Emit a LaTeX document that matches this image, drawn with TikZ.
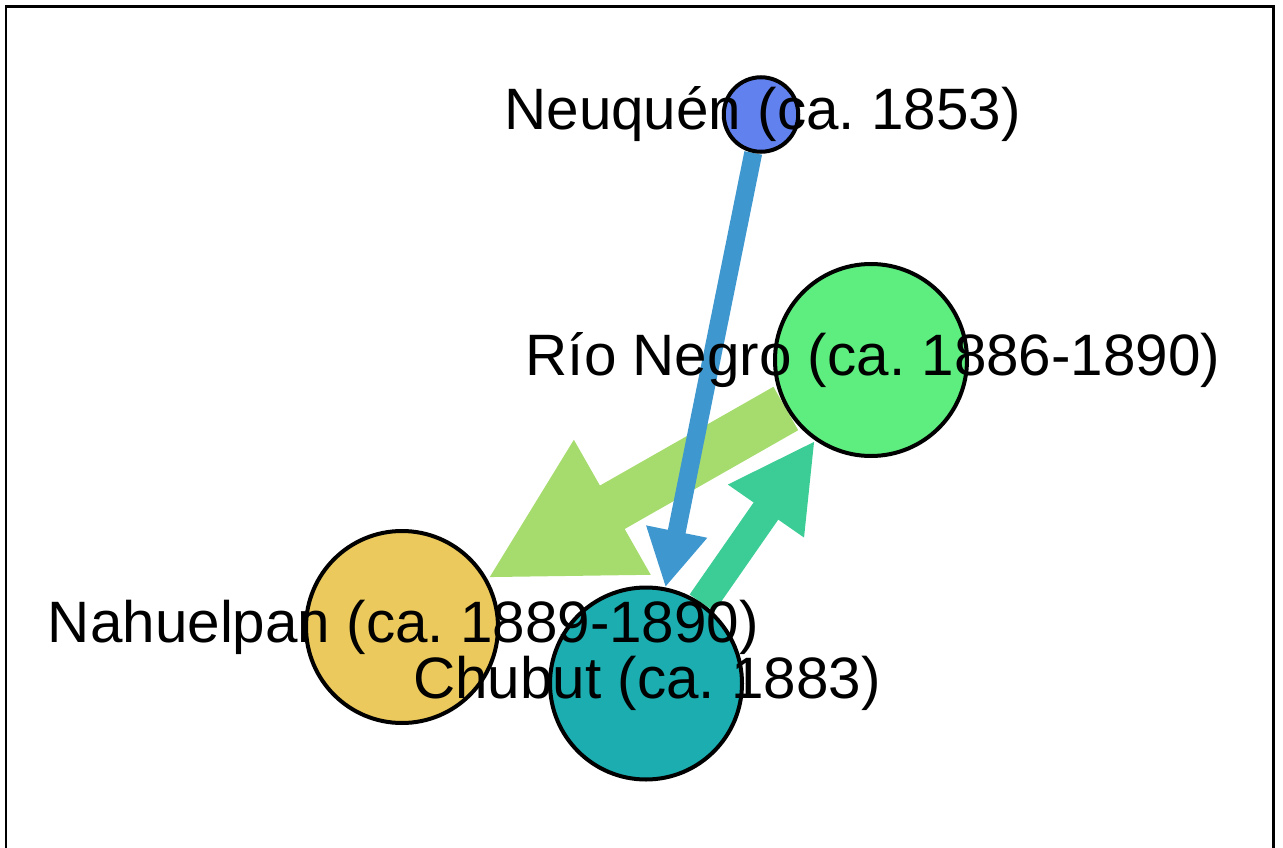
\documentclass[tikz,border=0pt]{standalone}
\usepackage{fontspec}
\setmainfont{Liberation Sans}
\usetikzlibrary{arrows.meta}
\frenchspacing
\pgfdeclarelayer{edges}
\pgfdeclarelayer{labels}
\pgfsetlayers{edges,main,labels}
\definecolor{cNeu}{HTML}{6181EE}
\definecolor{cRio}{HTML}{5DEE7F}
\definecolor{cNah}{HTML}{ECC95C}
\definecolor{cChu}{HTML}{1BADAF}
\definecolor{eBlue}{HTML}{3E97CF}
\definecolor{eLime}{HTML}{A6DC6E}
\definecolor{eTeal}{HTML}{3CCD96}
\begin{document}
\begin{tikzpicture}[x=1pt,y=-1pt,
  vertex/.style={circle, draw=black, line width=4pt, inner sep=0pt},
  lbl/.style={font=\fontsize{58.4}{70}\selectfont, inner sep=0pt, text=black, anchor=center},
  frame/.style={line width=2.2pt, draw=black}]
\useasboundingbox (0,0) rectangle (1283,848);
\draw[frame] (6,870) -- (6,6.5) -- (1273.5,6.5) -- (1273.5,870);

\node[vertex, fill=cNeu, minimum size=74.5pt] (neu) at (761,114.5) {};
\node[vertex, fill=cRio, minimum size=192pt] (rio) at (871,360) {};
\node[vertex, fill=cNah, minimum size=192pt] (nah) at (402,627) {};
\node[vertex, fill=cChu, minimum size=192pt] (chu) at (646,683.5) {};

\begin{pgfonlayer}{edges}
\draw[line width=50pt, eLime, -{Triangle[length=144pt,width=144pt]}] (rio) -- (nah);
\draw[line width=18pt, eBlue, -{Triangle[length=57pt,width=58pt]}] (neu) -- (chu);
\draw[line width=30pt, eTeal, -{Triangle[length=86pt,width=86pt]}] (chu) -- (rio);
\end{pgfonlayer}

\begin{pgfonlayer}{labels}
\node[lbl] (lneu) at ([xshift=1.5pt]neu.center) {Neuquén (ca. 1853)};
\node[lbl] (lrio) at ([xshift=2pt]rio.center) {Río Negro (ca. 1886-1890)};
\node[lbl] (lnah) at ([xshift=1.5pt]nah.center) {Nahuelpan (ca. 1889-1890)};
\node[lbl] (lchu) at ([xshift=1pt]chu.center) {Chubut (ca. 1883)};
\end{pgfonlayer}
\end{tikzpicture}
\end{document}
